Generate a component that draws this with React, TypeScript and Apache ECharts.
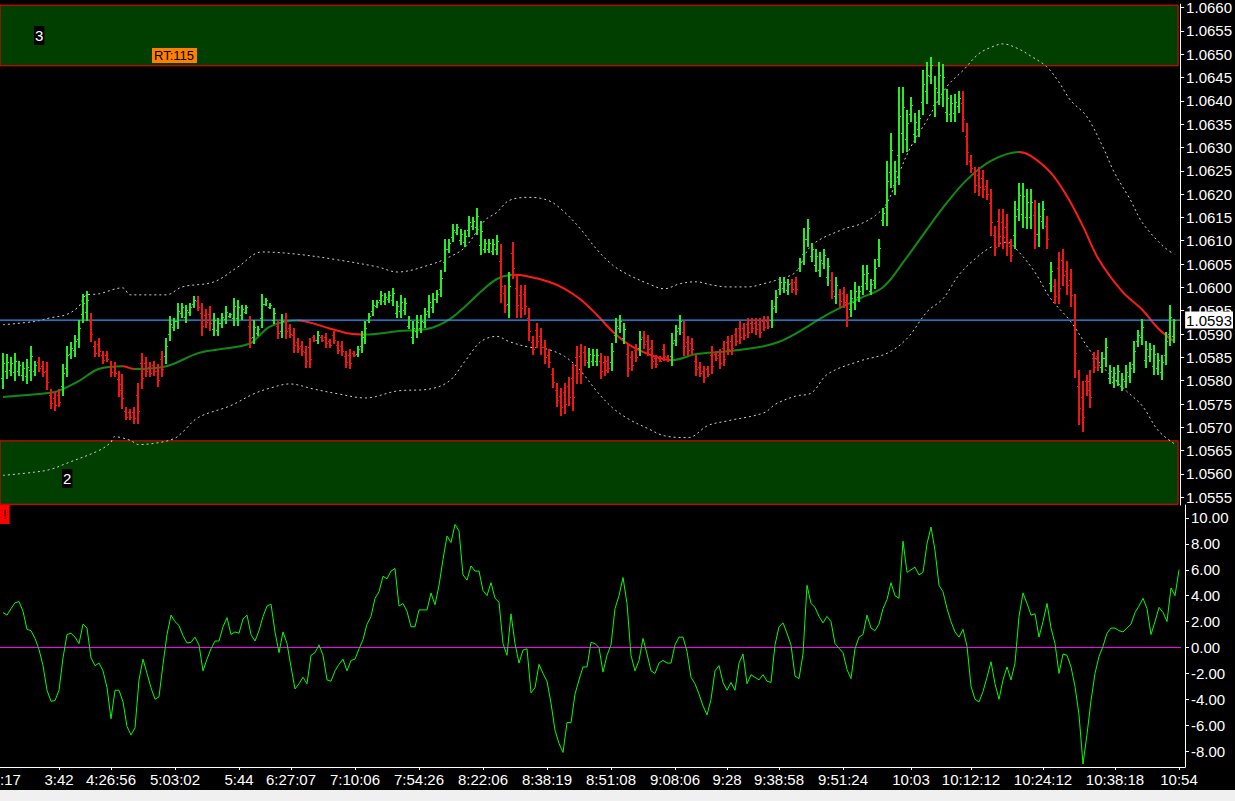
import React, { useEffect, useRef } from "react";
import * as echarts from "echarts";

// ---------- DATA ----------
const opens = [
1.05805,1.0582,1.05823,1.05818,1.05821,1.05812,1.05809,1.05822,1.05821,1.0584,
1.05832,1.05821,1.05769,1.05763,1.0577,1.05788,1.05827,1.05857,1.05865,1.05889,
1.05942,1.05948,1.05927,1.05874,1.05879,1.05856,1.05856,1.05832,1.05829,1.05804,
1.05792,1.05735,1.05732,1.05732,1.0577,1.05837,1.05837,1.05829,1.05833,1.05821,
1.05847,1.05853,1.05901,1.05915,1.05927,1.05945,1.05936,1.05947,1.05964,1.05971,
1.05946,1.05941,1.05944,1.05911,1.05908,1.05924,1.05933,1.05938,1.05935,1.05934,
1.05941,1.05948,1.05918,1.05894,1.05902,1.05935,1.05965,1.05957,1.05931,1.05918,
1.05907,1.05929,1.05912,1.05898,1.05882,1.05875,1.05861,1.05873,1.05894,1.05887,
1.05894,1.05893,1.05884,1.05898,1.05877,1.05875,1.05853,1.05854,1.0586,1.05858,
1.05874,1.05893,1.05931,1.05949,1.05961,1.05972,1.05971,1.05975,1.05972,1.05946,
1.05949,1.05952,1.05918,1.05893,1.05907,1.05914,1.05926,1.05949,1.05958,1.05975,
1.05997,1.06055,1.06082,1.06109,1.06119,1.06101,1.06098,1.06122,1.06131,1.06129,
1.06091,1.06082,1.06082,1.06079,1.06082,1.06056,1.05987,1.05964,1.06074,1.05998,
1.05984,1.05986,1.05935,1.05883,1.05908,1.05896,1.05872,1.05855,1.05815,1.0578,
1.05767,1.05776,1.05789,1.05805,1.0585,1.05853,1.05861,1.05841,1.05842,1.05842,
1.05843,1.0584,1.05842,1.05839,1.05897,1.05914,1.05892,1.05857,1.0585,1.05866,
1.05869,1.05894,1.05885,1.05869,1.05848,1.05849,1.05867,1.05851,1.05852,1.05888,
1.05912,1.05905,1.05882,1.05881,1.05842,1.05829,1.0582,1.05824,1.05856,1.05857,
1.05854,1.05869,1.05883,1.05886,1.05901,1.05912,1.05913,1.05921,1.05924,1.05923,
1.05921,1.05928,1.05929,1.05931,1.0596,1.05996,1.05998,1.05994,1.06009,1.06011,
1.06042,1.06071,1.06104,1.06067,1.06048,1.06038,1.06053,1.06022,1.06016,1.05982,
1.05985,1.05987,1.05965,1.05954,1.05969,1.05979,1.06002,1.0601,1.05993,1.06016,
1.06061,1.06144,1.06173,1.06248,1.0622,1.06283,1.06331,1.06318,1.06371,1.06328,
1.0634,1.06398,1.06421,1.06454,1.06392,1.06419,1.06415,1.06376,1.06372,1.06373,
1.06388,1.06396,1.06325,1.06272,1.06242,1.0624,1.06234,1.06218,1.0618,1.06113,
1.06143,1.06141,1.0613,1.06088,1.06113,1.06167,1.06157,1.06151,1.06151,1.06156,
1.06115,1.06143,1.06132,1.06009,1.06002,1.06042,1.06059,1.06035,1.06015,1.05932,
1.05788,1.05766,1.05799,1.05799,1.05848,1.05852,1.0583,1.05848,1.05805,1.05798,
1.05802,1.05789,1.05799,1.05809,1.05836,1.05884,1.05894,1.05844,1.05853,1.05832,
1.05827,1.05818,1.05855,1.05901,1.05896];

const highs = [
1.0586,1.05857,1.0585,1.0586,1.05843,1.05839,1.05846,1.05875,1.05843,1.0585,
1.05843,1.05839,1.05782,1.05775,1.05782,1.05836,1.05875,1.05882,1.05899,1.05931,
1.05985,1.05993,1.05946,1.05885,1.05892,1.05864,1.05864,1.05843,1.05839,1.05821,
1.05814,1.05743,1.0574,1.05743,1.05796,1.0586,1.0585,1.05839,1.05843,1.05836,
1.05864,1.05892,1.05938,1.05935,1.05967,1.05967,1.05963,1.05967,1.05981,1.05981,
1.05967,1.05953,1.0596,1.05946,1.05935,1.05946,1.0596,1.05946,1.05978,1.05974,
1.05963,1.05963,1.05938,1.05931,1.05917,1.05985,1.05978,1.05967,1.05956,1.05931,
1.05942,1.05946,1.05921,1.05914,1.05892,1.05885,1.05875,1.05892,1.05899,1.05907,
1.05899,1.05903,1.05889,1.05907,1.05885,1.05885,1.05864,1.05867,1.05864,1.05875,
1.05907,1.05928,1.05946,1.05974,1.05974,1.05992,1.05988,1.05992,1.05999,1.05971,
1.05984,1.05977,1.05938,1.05927,1.05941,1.05941,1.05956,1.05984,1.05988,1.05995,
1.06037,1.06104,1.06104,1.06136,1.06136,1.06126,1.06122,1.06154,1.06151,1.0617,
1.06143,1.06104,1.06104,1.06104,1.06112,1.06094,1.06005,1.06034,1.06097,1.06026,
1.06005,1.06005,1.05956,1.05895,1.05924,1.05913,1.05888,1.05867,1.05828,1.05796,
1.05785,1.05796,1.05807,1.05835,1.05874,1.05878,1.05874,1.0587,1.05867,1.05867,
1.0586,1.05853,1.05853,1.05881,1.05934,1.05941,1.05924,1.05878,1.05863,1.05878,
1.05906,1.05906,1.05899,1.05888,1.05856,1.05853,1.05878,1.05856,1.05902,1.0592,
1.05941,1.05927,1.05895,1.05892,1.05856,1.05839,1.05831,1.05831,1.05874,1.05863,
1.05867,1.05885,1.05895,1.05899,1.05913,1.05927,1.05924,1.05934,1.05934,1.05934,
1.05934,1.05938,1.05938,1.05973,1.05995,1.06023,1.06023,1.06019,1.06019,1.06023,
1.06064,1.06128,1.06146,1.06096,1.06082,1.06075,1.06082,1.06064,1.06033,1.06022,
1.05997,1.06001,1.05986,1.05994,1.06011,1.06004,1.06047,1.06047,1.06018,1.06061,
1.06103,1.06171,1.0627,1.0633,1.0627,1.0643,1.0643,1.0638,1.06408,1.06373,
1.0638,1.06465,1.06483,1.06493,1.06454,1.06483,1.06479,1.06426,1.06412,1.06415,
1.06422,1.06422,1.06352,1.06284,1.06259,1.06259,1.06252,1.06231,1.0621,1.06132,
1.06167,1.06167,1.06157,1.06103,1.06185,1.06224,1.06224,1.0621,1.0621,1.06188,
1.06181,1.06185,1.06153,1.06054,1.06018,1.06075,1.06082,1.06057,1.0604,1.05986,
1.05823,1.05799,1.05813,1.05823,1.05862,1.05866,1.05862,1.05891,1.05834,1.0583,
1.05834,1.05816,1.05834,1.05841,1.05884,1.05908,1.05933,1.05884,1.0588,1.05877,
1.05859,1.05855,1.05905,1.05962,1.05933];

const lows = [
1.05782,1.05804,1.05811,1.058,1.05811,1.058,1.05793,1.058,1.05811,1.05818,
1.05807,1.05779,1.0574,1.05736,1.05743,1.05768,1.05807,1.05846,1.0585,1.05871,
1.05924,1.05928,1.05882,1.0585,1.0585,1.05836,1.05839,1.05807,1.05807,1.05764,
1.0574,1.05715,1.05715,1.05708,1.05708,1.05782,1.05807,1.05807,1.05811,1.05786,
1.05807,1.05836,1.05885,1.05907,1.0591,1.05935,1.05924,1.05938,1.05956,1.05949,
1.05896,1.05914,1.05907,1.05896,1.05896,1.05914,1.05921,1.05935,1.05917,1.05917,
1.05931,1.05942,1.05871,1.05878,1.05896,1.05914,1.0596,1.05953,1.05921,1.05889,
1.05892,1.05889,1.05892,1.0586,1.0586,1.05853,1.05828,1.05828,1.05882,1.05878,
1.05882,1.05871,1.05871,1.05878,1.05857,1.05853,1.05828,1.05825,1.0585,1.0585,
1.0586,1.05878,1.05924,1.05938,1.05956,1.05963,1.05963,1.05967,1.0596,1.05935,
1.05934,1.05941,1.0591,1.05879,1.05892,1.05902,1.05913,1.05934,1.05945,1.05966,
1.0598,1.06034,1.06073,1.06097,1.06112,1.0609,1.06087,1.06108,1.06122,1.06112,
1.06069,1.06073,1.06073,1.06069,1.06069,1.05966,1.05945,1.05934,1.06019,1.05934,
1.05934,1.05941,1.05885,1.05856,1.0587,1.05856,1.05835,1.05828,1.05785,1.05743,
1.05725,1.05729,1.05746,1.05736,1.05793,1.05793,1.05831,1.05828,1.05831,1.05831,
1.05803,1.0581,1.05817,1.05821,1.05881,1.05902,1.05878,1.05807,1.05821,1.05839,
1.05853,1.05867,1.05853,1.05824,1.05828,1.05839,1.05842,1.05839,1.05831,1.05874,
1.05899,1.05853,1.05853,1.05856,1.0581,1.05807,1.05796,1.05807,1.05814,1.05842,
1.05824,1.05831,1.05856,1.05856,1.05874,1.05878,1.05888,1.05892,1.05902,1.05899,
1.05892,1.05906,1.0591,1.05913,1.05945,1.05984,1.05988,1.05984,1.05988,1.05984,
1.06033,1.06047,1.06086,1.06054,1.06033,1.06022,1.0604,1.06004,1.05976,1.05965,
1.05958,1.05955,1.05915,1.05937,1.05951,1.05969,1.05983,1.05994,1.05983,1.05997,
1.06043,1.06132,1.06132,1.06213,1.06199,1.0622,1.06288,1.06291,1.06355,1.06309,
1.06323,1.06369,1.06394,1.06437,1.06366,1.06391,1.06387,1.06355,1.06355,1.06355,
1.06373,1.06334,1.06263,1.06245,1.06203,1.06196,1.06192,1.06188,1.06111,1.06068,
1.06086,1.06082,1.06068,1.06054,1.06082,1.06142,1.06128,1.06125,1.06125,1.06082,
1.06086,1.06125,1.06082,1.0599,1.05965,1.05965,1.06004,1.05983,1.05958,1.05806,
1.05706,1.05689,1.05767,1.05742,1.05816,1.0582,1.05816,1.0583,1.05792,1.05784,
1.05788,1.05777,1.05784,1.05795,1.05816,1.05873,1.05877,1.05827,1.05841,1.05813,
1.05813,1.05802,1.05834,1.05875,1.0588];

const closes = [
1.05837,1.05841,1.05838,1.05842,1.05833,1.05827,1.0583,1.05853,1.05833,1.05828,
1.05818,1.05797,1.05753,1.05748,1.05755,1.05816,1.05855,1.05871,1.05884,1.05913,
1.05967,1.05973,1.05901,1.0586,1.05863,1.05844,1.05847,1.05818,1.05817,1.05781,
1.05762,1.05723,1.05723,1.05719,1.05734,1.05805,1.0582,1.05817,1.05821,1.05801,
1.05824,1.05875,1.05922,1.05927,1.0595,1.05957,1.05951,1.05958,1.05973,1.05959,
1.05917,1.05926,1.05923,1.05931,1.05923,1.05936,1.05948,1.05943,1.0596,1.05957,
1.05953,1.05957,1.05891,1.05915,1.05911,1.05964,1.05973,1.05963,1.05946,1.05902,
1.05927,1.05906,1.05901,1.05876,1.0587,1.05863,1.05842,1.05847,1.05887,1.05898,
1.05887,1.05881,1.05876,1.05887,1.05865,1.05863,1.05839,1.05838,1.05854,1.05867,
1.05893,1.05913,1.05939,1.05963,1.05969,1.05983,1.0598,1.05984,1.05987,1.0596,
1.05969,1.05966,1.0593,1.05913,1.05926,1.05929,1.05943,1.05969,1.05975,1.05986,
1.0602,1.06083,1.06095,1.06124,1.06129,1.06115,1.06111,1.0614,1.06142,1.06153,
1.06121,1.06095,1.06095,1.06094,1.06099,1.06004,1.05963,1.06004,1.06042,1.05962,
1.05955,1.0596,1.05906,1.05868,1.05886,1.05873,1.05851,1.0584,1.05798,1.05759,
1.05743,1.05749,1.05764,1.05766,1.05817,1.05819,1.05844,1.05857,1.05856,1.05856,
1.0582,1.05823,1.05828,1.05863,1.05918,1.05929,1.0591,1.05828,1.05834,1.05851,
1.0589,1.05879,1.05867,1.05843,1.05836,1.05843,1.05853,1.05844,1.05881,1.05906,
1.05928,1.05875,1.05866,1.05867,1.05824,1.05817,1.05807,1.05814,1.05832,1.05848,
1.05837,1.05847,1.05868,1.05869,1.05886,1.05893,1.05899,1.05905,1.05912,1.0591,
1.05905,1.05916,1.05918,1.05955,1.0598,1.06011,1.06012,1.06008,1.05997,1.05996,
1.06055,1.06104,1.06128,1.06083,1.06067,1.06059,1.06069,1.06046,1.05993,1.06005,
1.0597,1.05969,1.05936,1.05977,1.05993,1.05993,1.06028,1.06031,1.06007,1.06042,
1.06085,1.06159,1.06229,1.06295,1.06249,1.06367,1.06387,1.06353,1.06392,1.06354,
1.06363,1.06436,1.06456,1.06476,1.06428,1.06455,1.06451,1.06405,1.06395,1.06397,
1.06407,1.0636,1.0629,1.06257,1.0622,1.06215,1.0621,1.06201,1.06141,1.06087,
1.0611,1.06108,1.06095,1.06069,1.06154,1.06199,1.06195,1.06184,1.06184,1.06114,
1.06153,1.06167,1.06103,1.06035,1.05981,1.05998,1.06027,1.06005,1.05983,1.0586,
1.05741,1.05722,1.05781,1.05766,1.0583,1.05834,1.05848,1.05873,1.05821,1.05816,
1.0582,1.05804,1.05819,1.05827,1.05864,1.05897,1.05916,1.05867,1.05868,1.05858,
1.05845,1.05839,1.05884,1.05936,1.0593];

// oscillator value per bar (lower panel)
const oscValues = [
2.7,2.5,3.0,3.45,3.55,2.8,1.4,1.3,0.7,-0.15,
-1.4,-3.3,-4.15,-4.1,-3.3,-0.8,1.0,1.1,0.8,0.3,
1.8,1.5,-0.8,-1.4,-1.2,-1.8,-3.1,-5.5,-3.3,-3.3,
-4.2,-6.1,-6.75,-6.2,-2.5,-0.9,-2.0,-3.1,-4.0,-3.8,
-1.3,1.0,2.5,2.0,1.7,0.9,0.35,0.4,0.8,0.2,
-1.8,-0.9,-0.1,0.5,0.5,1.6,2.3,1.0,1.2,1.1,
2.2,2.5,1.0,0.5,1.3,2.4,3.2,3.35,1.2,-0.4,
1.2,0.3,-1.5,-3.2,-2.8,-2.3,-2.8,-0.6,-0.4,0.2,
-0.6,-2.5,-2.6,-1.8,-1.3,-0.9,-1.8,-1.0,-0.9,-0.1,
0.6,1.8,2.4,3.8,4.3,5.5,5.3,5.9,6.1,3.2,
3.4,2.8,1.6,1.6,2.9,2.9,2.9,4.2,3.3,4.8,
6.8,8.6,8.1,9.5,9.0,5.6,5.2,6.3,5.9,5.9,
4.4,4.0,5.0,3.8,3.5,0.3,-0.6,2.6,0.3,-1.2,
-0.2,-0.1,-3.5,-3.1,-1.3,-2.0,-2.6,-4.3,-6.4,-7.4,
-8.1,-5.8,-5.8,-3.6,-2.5,-1.5,-1.5,0.4,0.3,0.0,
-1.9,-0.6,0.2,3.0,4.0,5.4,3.4,-0.6,-1.8,-1.0,
0.7,-0.5,-1.8,-2.0,-1.2,-1.0,-1.2,-1.2,0.2,0.8,
0.8,-0.3,-2.3,-2.8,-3.6,-4.5,-5.2,-4.0,-1.8,-1.4,
-2.7,-3.3,-2.7,-3.3,-1.2,-0.5,-2.8,-2.1,-2.3,-2.5,
-2.1,-2.6,-2.7,0.2,1.6,1.9,1.1,0.2,-2.2,-2.4,
-0.5,4.8,3.4,3.1,2.4,1.9,2.4,2.0,0.3,-0.05,
-0.4,-1.7,-2.4,-0.1,0.8,1.0,2.5,1.5,1.3,1.8,
3.0,3.7,5.0,4.0,3.8,8.2,5.8,6.0,6.2,5.6,
5.8,8.0,9.3,7.5,4.8,4.3,3.0,2.0,1.2,0.8,
1.4,0.1,-3.0,-4.0,-4.2,-3.4,-2.3,-1.1,-2.8,-4.0,
-2.5,-1.5,-2.5,-1.2,2.4,4.2,3.4,2.5,2.6,0.8,
2.0,3.4,1.5,0.3,-2.0,-0.5,-0.6,-1.5,-3.0,-5.2,
-9.0,-6.7,-4.1,-2.0,-0.7,0.1,1.1,1.5,1.5,1.3,
1.2,1.5,1.8,2.7,3.2,3.8,3.0,1.0,2.0,3.1,
2.7,2.0,4.6,4.0,6.0];

// moving average, read at [bar index, price]
const maPoints: [number, number][] = [
[0,1.05765],[12,1.05774],[14,1.05778],[19,1.05799],[24,1.05825],[30,1.05831],[33,1.05825],
[41,1.05831],[49,1.05859],[54,1.05867],[62,1.0588],[67,1.05916],[74,1.05929],[82,1.05912],
[87,1.05901],[91,1.05899],[99,1.05906],[107,1.05912],[112,1.05931],[116,1.05959],[120,1.05991],
[124,1.06018],[128,1.06027],[131,1.06025],[137,1.06012],[141,1.05997],[145,1.05974],[149,1.05942],
[153,1.05906],[157,1.05878],[162,1.05857],[166,1.05846],[168,1.05844],[174,1.05857],[182,1.05863],
[191,1.05874],[195,1.05884],[199,1.05901],[207,1.05942],[215,1.05976],[221,1.06001],[226,1.06054],
[232,1.06125],[237,1.06182],[242,1.06231],[248,1.06271],[255,1.0629],[258,1.06282],[263,1.06246],
[267,1.06197],[271,1.06133],[275,1.06061],[281,1.05991],[286,1.05952],[290,1.05912],[294,1.05884]];

// envelope bands, read at [bar index, price]
const upperBand: [number, number][] = [
[0,1.0592],[8,1.05927],[12,1.05935],[16,1.05942],[19,1.05959],[21,1.05984],[24,1.05986],
[30,1.05999],[32,1.05984],[41,1.05984],[45,1.06001],[53,1.06012],[59,1.06044],[65,1.06076],
[74,1.06071],[84,1.06059],[94,1.06044],[99,1.06033],[107,1.06048],[112,1.06065],[116,1.06086],
[121,1.06144],[124,1.06161],[127,1.06186],[132,1.06193],[137,1.06186],[141,1.06161],[145,1.06125],
[149,1.06082],[153,1.06048],[157,1.06027],[162,1.06008],[166,1.05997],[170,1.06008],[174,1.06012],
[178,1.06005],[182,1.06001],[187,1.06001],[191,1.06008],[195,1.06018],[199,1.06033],[203,1.0609],
[211,1.06125],[215,1.06135],[219,1.06154],[222,1.06182],[225,1.06246],[228,1.06303],[232,1.06359],
[237,1.06431],[241,1.06465],[245,1.06501],[249,1.06518],[251,1.06522],[255,1.06511],[258,1.06496],
[262,1.06473],[265,1.06441],[268,1.06401],[272,1.06367],[276,1.06303],[279,1.06246],[283,1.06188],
[286,1.06139],[291,1.0609],[294,1.06071]];

const lowerBand: [number, number][] = [
[0,1.05597],[8,1.05604],[12,1.0561],[16,1.05623],[24,1.0565],[27,1.05667],[28,1.0568],
[32,1.05672],[34,1.05663],[39,1.05667],[43,1.05676],[45,1.05689],[49,1.05721],[57,1.05746],
[63,1.05772],[67,1.05784],[72,1.05793],[78,1.05782],[84,1.05772],[91,1.05763],[99,1.05778],
[107,1.05782],[112,1.05799],[116,1.05842],[120,1.05884],[124,1.05895],[127,1.05884],[132,1.05872],
[136,1.05869],[141,1.05852],[145,1.05821],[149,1.05778],[153,1.05742],[157,1.05718],[162,1.05697],
[166,1.05682],[172,1.05678],[177,1.05704],[182,1.05714],[191,1.05731],[194,1.0575],[199,1.05767],
[203,1.05774],[207,1.05814],[215,1.05842],[222,1.05859],[227,1.05891],[232,1.05948],[236,1.05976],
[240,1.06027],[244,1.06061],[248,1.06086],[252,1.06097],[255,1.06076],[259,1.06033],[263,1.05976],
[268,1.05927],[273,1.05863],[277,1.05821],[282,1.05778],[286,1.05746],[290,1.05693],[294,1.05665]];

const bidPrice = 1.0593;
// supply / demand zones [low, high]
const zones: [number, number][] = [[1.05535, 1.05671], [1.06475, 1.06605]];

const priceTicks = [1.0555,1.056,1.0565,1.057,1.0575,1.058,1.0585,1.059,1.0595,1.06,1.0605,
  1.061,1.0615,1.062,1.0625,1.063,1.0635,1.064,1.0645,1.065,1.0655,1.066];
const oscTicks = [-8, -6, -4, -2, 0, 2, 4, 6, 8, 10];
const timeTickIdx = [14,27,43,59,72,88,104,120,136,152,168,181,194,210,227,242,260,278,294];
const timeTickLabels = ["3:42","4:26:56","5:03:02","5:44","6:27:07","7:10:06","7:54:26","8:22:06",
  "8:38:19","8:51:08","9:08:06","9:28","9:38:58","9:51:24","10:03","10:12:12","10:24:12","10:38:18","10:54"];

// ---------- STYLE ----------
const FONT = "Liberation Sans, Arial, sans-serif";
const BAR_UP = "#22ee22";
const BAR_DOWN = "#f41414";
const MA_UP = "#118a11";
const MA_DOWN = "#ff1a1a";
const X_MIN = -0.75;
const X_MAX = 295.5;

function buildOption() {
  const barData = opens.map((o, i) => [i, o, highs[i], lows[i], closes[i]]);
  const maPieces = maPoints.slice(1).map((p, k) => ({
    min: maPoints[k][0],
    max: p[0],
    color: p[1] >= maPoints[k][1] ? MA_UP : MA_DOWN,
  }));

  return {
    animation: false,
    backgroundColor: "#000000",
    grid: [
      { left: 0, top: 0, width: 1185, height: 505 },
      { left: 0, top: 505, width: 1185, height: 262 },
    ],
    xAxis: [
      { gridIndex: 0, type: "value", min: X_MIN, max: X_MAX, show: false },
      {
        gridIndex: 1, type: "value", min: X_MIN, max: X_MAX,
        axisLine: { show: true, onZero: false, lineStyle: { color: "#ffffff", width: 1 } },
        axisTick: { show: true, length: 3, customValues: timeTickIdx, lineStyle: { color: "#ffffff" } },
        axisLabel: {
          show: true, customValues: timeTickIdx, color: "#ffffff", fontSize: 15, fontFamily: FONT, margin: 5,
          formatter: (v: number) => {
            const k = timeTickIdx.indexOf(Math.round(v));
            return k >= 0 ? timeTickLabels[k] : "";
          },
        },
        splitLine: { show: false },
      },
    ],
    yAxis: [
      {
        gridIndex: 0, type: "value", position: "right", min: 1.055335, max: 1.066071, scale: true,
        axisLine: { show: true, onZero: false, lineStyle: { color: "#ffffff", width: 1 } },
        axisTick: { show: true, length: 4, customValues: priceTicks, lineStyle: { color: "#ffffff" } },
        axisLabel: {
          show: true, customValues: priceTicks, color: "#ffffff", fontSize: 15, fontFamily: FONT, margin: 6,
          formatter: (v: number) => v.toFixed(4),
        },
        splitLine: { show: false },
      },
      {
        gridIndex: 1, type: "value", position: "right", min: -9.225, max: 11.0,
        axisLine: { show: true, onZero: false, lineStyle: { color: "#ffffff", width: 1 } },
        axisTick: { show: true, length: 4, customValues: oscTicks, lineStyle: { color: "#ffffff" } },
        axisLabel: {
          show: true, customValues: oscTicks, color: "#ffffff", fontSize: 15, fontFamily: FONT, margin: 6,
          formatter: (v: number) => v.toFixed(2),
        },
        splitLine: { show: false },
      },
    ],
    visualMap: [
      { type: "piecewise", show: false, seriesIndex: 3, dimension: 0, pieces: maPieces, outOfRange: { color: MA_UP } },
    ],
    series: [
      {
        name: "zones", type: "line", xAxisIndex: 0, yAxisIndex: 0, data: [], z: 1,
        markArea: {
          silent: true,
          itemStyle: { color: "#003f00", borderColor: "#ff0000", borderWidth: 1 },
          data: zones.map(([lo, hi]) => [{ xAxis: -2, yAxis: lo }, { xAxis: 295, yAxis: hi }]),
        },
      },
      {
        name: "upper", type: "line", xAxisIndex: 0, yAxisIndex: 0, data: upperBand, z: 2,
        showSymbol: false, smooth: 0.35, lineStyle: { color: "#cfcfcf", width: 1, type: [2, 3] },
      },
      {
        name: "lower", type: "line", xAxisIndex: 0, yAxisIndex: 0, data: lowerBand, z: 2,
        showSymbol: false, smooth: 0.35, lineStyle: { color: "#cfcfcf", width: 1, type: [2, 3] },
      },
      {
        name: "ma", type: "line", xAxisIndex: 0, yAxisIndex: 0, data: maPoints, z: 3,
        showSymbol: false, smooth: 0.35, lineStyle: { width: 2 },
      },
      {
        name: "bid", type: "line", xAxisIndex: 0, yAxisIndex: 0, z: 3,
        data: [[X_MIN, bidPrice], [X_MAX, bidPrice]],
        showSymbol: false, silent: true,
        itemStyle: { color: "#2a98ff" },
        lineStyle: { color: "#2a98ff", width: 1.2, type: "solid" },
        endLabel: {
          show: true, formatter: () => bidPrice.toFixed(4), distance: 5,
          color: "#000000", backgroundColor: "#ffffff", fontSize: 15, fontFamily: FONT, padding: [1, 1, 1, 1],
        },
      },
      {
        name: "bars", type: "custom", xAxisIndex: 0, yAxisIndex: 0, data: barData, z: 4,
        encode: { x: 0, y: [1, 2, 3, 4] },
        renderItem: (_params: any, api: any) => {
          const i = api.value(0);
          const o = api.value(1), h = api.value(2), l = api.value(3), c = api.value(4);
          const pH = api.coord([i, h]);
          const pL = api.coord([i, l]);
          const pO = api.coord([i, o]);
          const pC = api.coord([i, c]);
          const x = Math.round(pH[0]);
          const top = Math.round(pH[1]);
          const bot = Math.round(pL[1]);
          const color = c >= o ? BAR_UP : BAR_DOWN;
          return {
            type: "group",
            children: [
              { type: "rect", shape: { x: x - 1, y: top, width: 2, height: Math.max(1, bot - top) }, style: { fill: color } },
              { type: "rect", shape: { x: x - 2, y: Math.round(pO[1]), width: 1, height: 1 }, style: { fill: color } },
              { type: "rect", shape: { x: x + 1, y: Math.round(pC[1]), width: 1, height: 1 }, style: { fill: color } },
            ],
          };
        },
      },
      {
        name: "zero", type: "line", xAxisIndex: 1, yAxisIndex: 1, z: 2,
        data: [[X_MIN, 0], [294.5, 0]],
        showSymbol: false, silent: true,
        itemStyle: { color: "#ff00ff" },
        lineStyle: { color: "#ff00ff", width: 1, type: "solid" },
      },
      {
        name: "osc", type: "line", xAxisIndex: 1, yAxisIndex: 1, z: 3,
        data: oscValues.map((v, i) => [i, v]),
        showSymbol: false, itemStyle: { color: "#00ff00" }, lineStyle: { color: "#00ff00", width: 1 },
      },
    ],
    graphic: [
      { type: "rect", left: 0, top: 790, z: 100, shape: { width: 1235, height: 11 }, style: { fill: "#f0f0f0" }, silent: true },
      { type: "text", left: 0, top: 772, z: 100, style: { text: ":17", fill: "#ffffff", fontSize: 15, fontFamily: FONT } },
      { type: "text", left: 34, top: 26, z: 100, style: { text: "3", fill: "#ffffff", backgroundColor: "#000000", padding: [2, 1, 2, 1], fontSize: 15, fontFamily: FONT } },
      { type: "text", left: 62, top: 469, z: 100, style: { text: "2", fill: "#ffffff", backgroundColor: "#000000", padding: [2, 1, 2, 1], fontSize: 15, fontFamily: FONT } },
      { type: "text", left: 152, top: 48, z: 100, style: { text: "RT:115", fill: "#000000", backgroundColor: "#ff8000", padding: [1, 3, 1, 2], fontSize: 13, fontFamily: FONT } },
      { type: "text", left: 0, top: 505, z: 100, style: { text: "!", fill: "#000000", backgroundColor: "#ff0000", padding: [3, 3, 3, 3], fontSize: 13, fontFamily: FONT } },
    ],
  };
}

export default function App() {
  const ref = useRef<HTMLDivElement>(null);
  useEffect(() => {
    if (!ref.current) return;
    const chart = echarts.init(ref.current, undefined, { renderer: "svg" });
    chart.setOption(buildOption() as any);
    return () => chart.dispose();
  }, []);
  return <div ref={ref} style={{ position: "fixed", left: 0, top: 0, width: 1235, height: 801 }} />;
}
